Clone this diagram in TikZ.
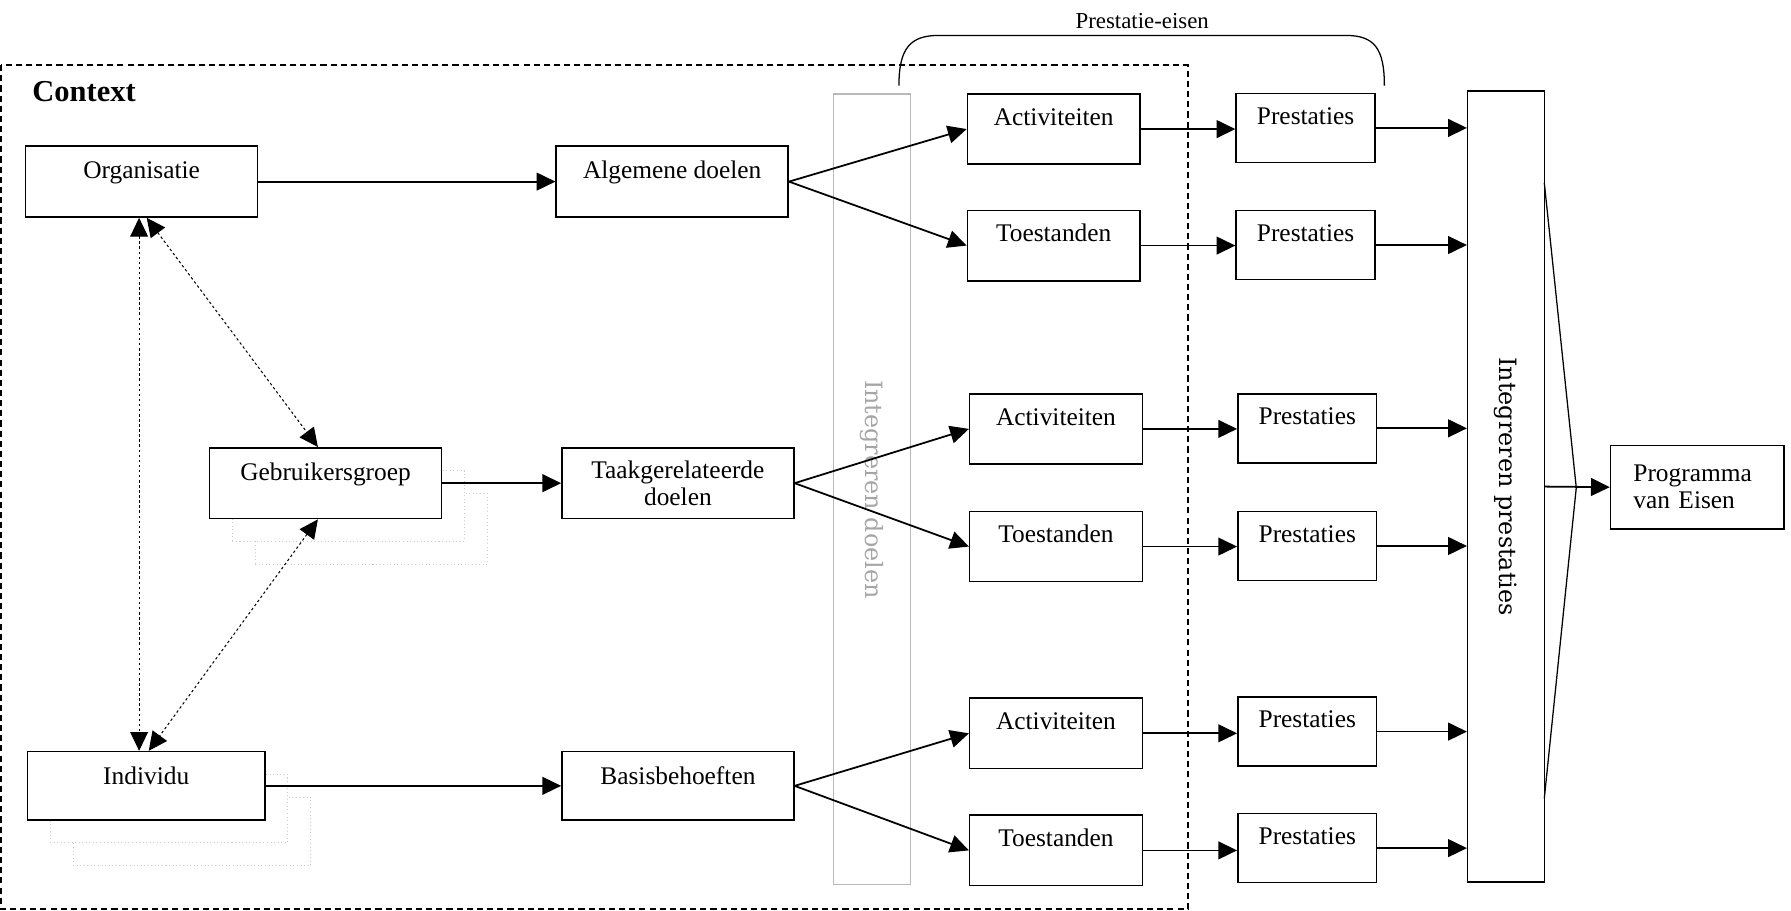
\documentclass[tikz,border=0pt]{standalone}
\usepackage{fontspec}
\setmainfont{Liberation Serif}
\newfontfamily\widefont{DejaVu Serif}
\usepackage{tikz}
\usetikzlibrary{arrows.meta,shadows}
\pgfdeclarelayer{edgelayer}
\pgfdeclarelayer{nodelayer}
\pgfsetlayers{nodelayer,edgelayer,main}
\tikzset{>={Triangle[length=7.4pt,width=7pt]}}
\tikzstyle{none}=[inner sep=0pt]
\tikzstyle{goalbox}=[rectangle,draw=black,fill=white,line width=0.6pt,inner sep=0pt,minimum width=91.4pt,minimum height=27.9pt,text height=12.8pt,text depth=15.1pt,font=\fontsize{10}{12}\selectfont]
\tikzstyle{goalpair}=[rectangle,draw=black,fill=white,line width=0.6pt,inner sep=0pt,minimum width=91.4pt,minimum height=27.9pt,align=center,font=\fontsize{10}{10.8}\selectfont]
\tikzstyle{stackbox}=[copy shadow={shadow xshift=18pt,shadow yshift=-18pt,draw=gray!40,fill=white,line width=0.4pt,densely dotted},copy shadow={shadow xshift=9pt,shadow yshift=-9pt,draw=gray!40,fill=white,line width=0.4pt,densely dotted}]
\tikzstyle{waybox}=[rectangle,draw=black,fill=white,line width=0.6pt,inner sep=0pt,minimum width=68pt,minimum height=27.7pt,text height=12.4pt,text depth=15.3pt,font=\fontsize{10}{12}\selectfont]
\tikzstyle{perfbox}=[rectangle,draw=black,fill=white,line width=0.6pt,inner sep=0pt,minimum width=54.7pt,minimum height=27.2pt,text height=12.1pt,text depth=15.1pt,font=\fontsize{10}{12}\selectfont]
\tikzstyle{mergebox}=[rectangle,draw=black,line width=0.6pt,inner sep=0pt,minimum width=30.2pt,minimum height=311.5pt]
\tikzstyle{sidetext}=[rotate=-90,inner sep=0pt,font=\widefont\fontsize{9.4}{11}\selectfont]
\tikzstyle{flow}=[->,line width=0.7pt]
\tikzstyle{relation}=[<->,draw=black,line width=0.4pt,dash pattern=on 1pt off 1pt]
\tikzstyle{funnel}=[-,line width=0.5pt]
\tikzstyle{frame}=[-,line width=0.6pt,dash pattern=on 2.4pt off 1.6pt]

\begin{document}
\begin{tikzpicture}[x=0.45pt,y=-0.45pt]
	\useasboundingbox (0,0) rectangle (1568,797);
	\begin{pgfonlayer}{nodelayer}
		\node [style=none, anchor=west, font=\fontsize{12}{14}\selectfont\bfseries] (context) at (28,80) {Context};
		\node [style=none, font=\fontsize{9}{11}\selectfont] (eisen) at (1000,18) {Prestatie-eisen};

		\node [style=goalbox] (org) at (124,159) {Organisatie};
		\node [style=goalbox] (alg) at (588.5,159) {Algemene doelen};
		\node [style=goalbox, style=stackbox] (gebr) at (285,423) {Gebruikersgroep};
		\node [style=goalpair] (taak) at (593.5,423) {Taakgerelateerde\\doelen};
		\node [style=goalbox, style=stackbox, minimum width=93.6pt, minimum height=27pt, text depth=14.2pt] (ind) at (128,688) {Individu};
		\node [style=goalbox, minimum height=27pt, text depth=14.2pt] (basis) at (593.5,688) {Basisbehoeften};

		\node [style=mergebox, draw=gray!55, line width=0.5pt, label={[style=sidetext, text=gray!70]center:Integreren doelen}] (intd) at (763.5,428.5) {};

		\node [style=waybox] (act1) at (922.5,113) {Activiteiten};
		\node [style=waybox] (toes1) at (922.5,215) {Toestanden};
		\node [style=waybox] (act2) at (924.5,375.5) {Activiteiten};
		\node [style=waybox] (toes2) at (924.5,478.5) {Toestanden};
		\node [style=waybox] (act3) at (924.5,642) {Activiteiten};
		\node [style=waybox] (toes3) at (924.5,744.5) {Toestanden};

		\node [style=perfbox] (pr1) at (1143,112) {Prestaties};
		\node [style=perfbox] (pr2) at (1143,214.5) {Prestaties};
		\node [style=perfbox] (pr3) at (1144.5,375) {Prestaties};
		\node [style=perfbox] (pr4) at (1144.5,478) {Prestaties};
		\node [style=perfbox] (pr5) at (1144.5,640.5) {Prestaties};
		\node [style=perfbox] (pr6) at (1144.5,742.5) {Prestaties};

		\node [style=mergebox, label={[style=sidetext]center:Integreren prestaties}] (intp) at (1318.5,426) {};
		\node [style=goalpair, minimum width=68.4pt, minimum height=32.9pt, align=left, text width=50.4pt, inner xsep=9pt, font=\fontsize{10}{10.6}\selectfont] (pve) at (1486,426.5) {Programma\\van Eisen};

		\coordinate (ftop) at (1352,160);
		\coordinate (apex) at (1380,427);
		\coordinate (fbot) at (1352,699);
	\end{pgfonlayer}
	\begin{pgfonlayer}{edgelayer}
		\draw [style=flow] (org.east) to (alg.west);
		\draw [style=flow] (gebr.east) to (taak.west);
		\draw [style=flow] (ind.east) to (basis.west);
		\draw [style=relation] ([xshift=-1pt]org.south) to ([xshift=-1pt]org.south |- ind.north);
		\draw [style=relation] ([xshift=2pt]org.south) to ([xshift=-3pt]gebr.north);
		\draw [style=relation] ([xshift=-3pt]gebr.south) to ([xshift=1pt]ind.north);
		\draw [style=flow] (alg.east) to (act1.west);
		\draw [style=flow] (alg.east) to (toes1.west);
		\draw [style=flow] (taak.east) to (act2.west);
		\draw [style=flow] (taak.east) to (toes2.west);
		\draw [style=flow] (basis.east) to (act3.west);
		\draw [style=flow] (basis.east) to (toes3.west);
		\draw [style=flow] (act1.east) to (act1.east -| pr1.west);
		\draw [style=flow] (toes1.east) to (toes1.east -| pr2.west);
		\draw [style=flow] (act2.east) to (act2.east -| pr3.west);
		\draw [style=flow] (toes2.east) to (toes2.east -| pr4.west);
		\draw [style=flow] (act3.east) to (act3.east -| pr5.west);
		\draw [style=flow] (toes3.east) to (toes3.east -| pr6.west);
		\draw [style=flow] (pr1.east) to (pr1.east -| intp.west);
		\draw [style=flow] (pr2.east) to (pr2.east -| intp.west);
		\draw [style=flow] (pr3.east) to (pr3.east -| intp.west);
		\draw [style=flow] (pr4.east) to (pr4.east -| intp.west);
		\draw [style=flow] (pr5.east) to (pr5.east -| intp.west);
		\draw [style=flow] (pr6.east) to (pr6.east -| intp.west);
		\draw [style=funnel] (ftop) -- (apex) -- (fbot);
		\draw [style=flow] (intp.east) to (pve.west);
	\end{pgfonlayer}
	\draw [style=frame] (1,57) rectangle (1040,796);
	\draw [style=funnel] (787,75) .. controls (787,42) and (797,31) .. (822,31) -- (1178,31) .. controls (1203,31) and (1212,42) .. (1212,75);
\end{tikzpicture}
\end{document}
